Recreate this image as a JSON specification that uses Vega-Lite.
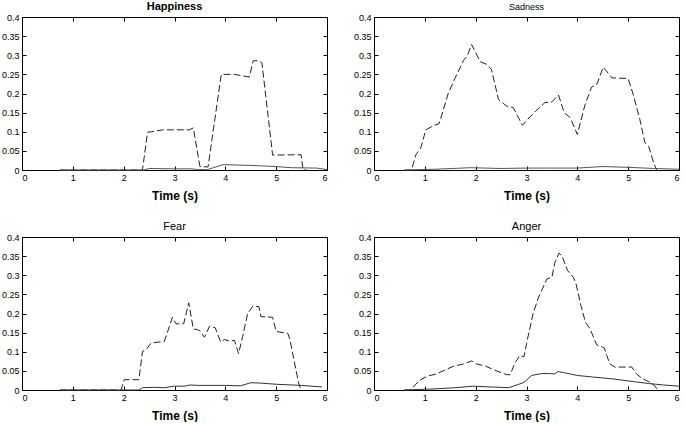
{
  "$schema": "https://vega.github.io/schema/vega-lite/v6.json",
  "padding": {"left": 0, "top": 0, "right": 4, "bottom": 0},
  "background": "white",
  "datasets": {
    "curves": [
      {"p": "Happiness", "s": "d", "t": 0.75, "v": 0},
      {"p": "Happiness", "s": "d", "t": 2.37, "v": 0},
      {"p": "Happiness", "s": "d", "t": 2.47, "v": 0.099},
      {"p": "Happiness", "s": "d", "t": 2.55, "v": 0.1},
      {"p": "Happiness", "s": "d", "t": 2.77, "v": 0.105},
      {"p": "Happiness", "s": "d", "t": 3.29, "v": 0.105},
      {"p": "Happiness", "s": "d", "t": 3.37, "v": 0.11},
      {"p": "Happiness", "s": "d", "t": 3.5, "v": 0.009},
      {"p": "Happiness", "s": "d", "t": 3.66, "v": 0.008},
      {"p": "Happiness", "s": "d", "t": 3.92, "v": 0.25},
      {"p": "Happiness", "s": "d", "t": 4.18, "v": 0.25},
      {"p": "Happiness", "s": "d", "t": 4.47, "v": 0.243},
      {"p": "Happiness", "s": "d", "t": 4.55, "v": 0.286},
      {"p": "Happiness", "s": "d", "t": 4.67, "v": 0.285},
      {"p": "Happiness", "s": "d", "t": 4.72, "v": 0.28},
      {"p": "Happiness", "s": "d", "t": 4.93, "v": 0.039},
      {"p": "Happiness", "s": "d", "t": 5.49, "v": 0.04},
      {"p": "Happiness", "s": "d", "t": 5.53, "v": 0},
      {"p": "Happiness", "s": "d", "t": 5.6, "v": 0},
      {"p": "Happiness", "s": "s", "t": 0.75, "v": 0},
      {"p": "Happiness", "s": "s", "t": 2.4, "v": 0},
      {"p": "Happiness", "s": "s", "t": 2.5, "v": 0.004},
      {"p": "Happiness", "s": "s", "t": 3.0, "v": 0.003},
      {"p": "Happiness", "s": "s", "t": 3.35, "v": 0.003},
      {"p": "Happiness", "s": "s", "t": 3.45, "v": 0.001},
      {"p": "Happiness", "s": "s", "t": 3.65, "v": 0.001},
      {"p": "Happiness", "s": "s", "t": 3.95, "v": 0.014},
      {"p": "Happiness", "s": "s", "t": 4.5, "v": 0.012},
      {"p": "Happiness", "s": "s", "t": 5.0, "v": 0.009},
      {"p": "Happiness", "s": "s", "t": 5.3, "v": 0.006},
      {"p": "Happiness", "s": "s", "t": 5.8, "v": 0.005},
      {"p": "Happiness", "s": "s", "t": 6.0, "v": 0.001},

      {"p": "Sadness", "s": "d", "t": 0.6, "v": 0},
      {"p": "Sadness", "s": "d", "t": 0.74, "v": 0},
      {"p": "Sadness", "s": "d", "t": 0.82, "v": 0.039},
      {"p": "Sadness", "s": "d", "t": 0.92, "v": 0.058},
      {"p": "Sadness", "s": "d", "t": 1.02, "v": 0.105},
      {"p": "Sadness", "s": "d", "t": 1.17, "v": 0.116},
      {"p": "Sadness", "s": "d", "t": 1.28, "v": 0.121},
      {"p": "Sadness", "s": "d", "t": 1.46, "v": 0.2},
      {"p": "Sadness", "s": "d", "t": 1.59, "v": 0.239},
      {"p": "Sadness", "s": "d", "t": 1.76, "v": 0.286},
      {"p": "Sadness", "s": "d", "t": 1.84, "v": 0.3},
      {"p": "Sadness", "s": "d", "t": 1.92, "v": 0.328},
      {"p": "Sadness", "s": "d", "t": 2.09, "v": 0.283},
      {"p": "Sadness", "s": "d", "t": 2.22, "v": 0.276},
      {"p": "Sadness", "s": "d", "t": 2.31, "v": 0.263},
      {"p": "Sadness", "s": "d", "t": 2.45, "v": 0.184},
      {"p": "Sadness", "s": "d", "t": 2.61, "v": 0.167},
      {"p": "Sadness", "s": "d", "t": 2.74, "v": 0.163},
      {"p": "Sadness", "s": "d", "t": 2.92, "v": 0.117},
      {"p": "Sadness", "s": "d", "t": 3.02, "v": 0.132},
      {"p": "Sadness", "s": "d", "t": 3.18, "v": 0.154},
      {"p": "Sadness", "s": "d", "t": 3.36, "v": 0.176},
      {"p": "Sadness", "s": "d", "t": 3.5, "v": 0.178},
      {"p": "Sadness", "s": "d", "t": 3.63, "v": 0.196},
      {"p": "Sadness", "s": "d", "t": 3.74, "v": 0.15},
      {"p": "Sadness", "s": "d", "t": 3.86, "v": 0.137},
      {"p": "Sadness", "s": "d", "t": 4.0, "v": 0.093},
      {"p": "Sadness", "s": "d", "t": 4.15, "v": 0.17},
      {"p": "Sadness", "s": "d", "t": 4.28, "v": 0.217},
      {"p": "Sadness", "s": "d", "t": 4.38, "v": 0.223},
      {"p": "Sadness", "s": "d", "t": 4.51, "v": 0.269},
      {"p": "Sadness", "s": "d", "t": 4.68, "v": 0.241},
      {"p": "Sadness", "s": "d", "t": 5.0, "v": 0.239},
      {"p": "Sadness", "s": "d", "t": 5.1, "v": 0.197},
      {"p": "Sadness", "s": "d", "t": 5.23, "v": 0.132},
      {"p": "Sadness", "s": "d", "t": 5.33, "v": 0.071},
      {"p": "Sadness", "s": "d", "t": 5.41, "v": 0.06},
      {"p": "Sadness", "s": "d", "t": 5.5, "v": 0.019},
      {"p": "Sadness", "s": "d", "t": 5.56, "v": 0},
      {"p": "Sadness", "s": "s", "t": 0.6, "v": 0},
      {"p": "Sadness", "s": "s", "t": 1.2, "v": 0.002},
      {"p": "Sadness", "s": "s", "t": 1.9, "v": 0.006},
      {"p": "Sadness", "s": "s", "t": 2.5, "v": 0.004},
      {"p": "Sadness", "s": "s", "t": 3.0, "v": 0.005},
      {"p": "Sadness", "s": "s", "t": 3.5, "v": 0.005},
      {"p": "Sadness", "s": "s", "t": 4.0, "v": 0.005},
      {"p": "Sadness", "s": "s", "t": 4.5, "v": 0.009},
      {"p": "Sadness", "s": "s", "t": 5.0, "v": 0.007},
      {"p": "Sadness", "s": "s", "t": 5.5, "v": 0.004},
      {"p": "Sadness", "s": "s", "t": 6.0, "v": 0.002},

      {"p": "Fear", "s": "d", "t": 0.75, "v": 0},
      {"p": "Fear", "s": "d", "t": 1.95, "v": 0},
      {"p": "Fear", "s": "d", "t": 2.01, "v": 0.027},
      {"p": "Fear", "s": "d", "t": 2.3, "v": 0.027},
      {"p": "Fear", "s": "d", "t": 2.37, "v": 0.101},
      {"p": "Fear", "s": "d", "t": 2.44, "v": 0.105},
      {"p": "Fear", "s": "d", "t": 2.54, "v": 0.123},
      {"p": "Fear", "s": "d", "t": 2.8, "v": 0.127},
      {"p": "Fear", "s": "d", "t": 2.96, "v": 0.19},
      {"p": "Fear", "s": "d", "t": 3.03, "v": 0.173},
      {"p": "Fear", "s": "d", "t": 3.18, "v": 0.173},
      {"p": "Fear", "s": "d", "t": 3.28, "v": 0.228},
      {"p": "Fear", "s": "d", "t": 3.37, "v": 0.16},
      {"p": "Fear", "s": "d", "t": 3.49, "v": 0.156},
      {"p": "Fear", "s": "d", "t": 3.59, "v": 0.138},
      {"p": "Fear", "s": "d", "t": 3.69, "v": 0.167},
      {"p": "Fear", "s": "d", "t": 3.8, "v": 0.163},
      {"p": "Fear", "s": "d", "t": 3.91, "v": 0.125},
      {"p": "Fear", "s": "d", "t": 3.98, "v": 0.132},
      {"p": "Fear", "s": "d", "t": 4.08, "v": 0.128},
      {"p": "Fear", "s": "d", "t": 4.18, "v": 0.13},
      {"p": "Fear", "s": "d", "t": 4.26, "v": 0.095},
      {"p": "Fear", "s": "d", "t": 4.34, "v": 0.14},
      {"p": "Fear", "s": "d", "t": 4.44, "v": 0.2},
      {"p": "Fear", "s": "d", "t": 4.54, "v": 0.219},
      {"p": "Fear", "s": "d", "t": 4.66, "v": 0.218},
      {"p": "Fear", "s": "d", "t": 4.7, "v": 0.192},
      {"p": "Fear", "s": "d", "t": 4.93, "v": 0.19},
      {"p": "Fear", "s": "d", "t": 5.0, "v": 0.153},
      {"p": "Fear", "s": "d", "t": 5.23, "v": 0.148},
      {"p": "Fear", "s": "d", "t": 5.27, "v": 0.132},
      {"p": "Fear", "s": "d", "t": 5.44, "v": 0.019},
      {"p": "Fear", "s": "d", "t": 5.49, "v": 0},
      {"p": "Fear", "s": "s", "t": 0.75, "v": 0},
      {"p": "Fear", "s": "s", "t": 2.3, "v": 0},
      {"p": "Fear", "s": "s", "t": 2.37, "v": 0.006},
      {"p": "Fear", "s": "s", "t": 2.6, "v": 0.007},
      {"p": "Fear", "s": "s", "t": 2.8, "v": 0.006},
      {"p": "Fear", "s": "s", "t": 3.0, "v": 0.01},
      {"p": "Fear", "s": "s", "t": 3.2, "v": 0.01},
      {"p": "Fear", "s": "s", "t": 3.3, "v": 0.013},
      {"p": "Fear", "s": "s", "t": 3.5, "v": 0.012},
      {"p": "Fear", "s": "s", "t": 4.0, "v": 0.012},
      {"p": "Fear", "s": "s", "t": 4.3, "v": 0.011},
      {"p": "Fear", "s": "s", "t": 4.5, "v": 0.019},
      {"p": "Fear", "s": "s", "t": 4.7, "v": 0.018},
      {"p": "Fear", "s": "s", "t": 5.0, "v": 0.015},
      {"p": "Fear", "s": "s", "t": 5.5, "v": 0.012},
      {"p": "Fear", "s": "s", "t": 5.9, "v": 0.008},

      {"p": "Anger", "s": "d", "t": 0.6, "v": 0},
      {"p": "Anger", "s": "d", "t": 0.73, "v": 0},
      {"p": "Anger", "s": "d", "t": 0.82, "v": 0.015},
      {"p": "Anger", "s": "d", "t": 0.9, "v": 0.025},
      {"p": "Anger", "s": "d", "t": 1.04, "v": 0.036},
      {"p": "Anger", "s": "d", "t": 1.2, "v": 0.041},
      {"p": "Anger", "s": "d", "t": 1.36, "v": 0.05},
      {"p": "Anger", "s": "d", "t": 1.56, "v": 0.062},
      {"p": "Anger", "s": "d", "t": 1.76, "v": 0.068},
      {"p": "Anger", "s": "d", "t": 1.92, "v": 0.076},
      {"p": "Anger", "s": "d", "t": 2.02, "v": 0.068},
      {"p": "Anger", "s": "d", "t": 2.18, "v": 0.063},
      {"p": "Anger", "s": "d", "t": 2.41, "v": 0.05},
      {"p": "Anger", "s": "d", "t": 2.61, "v": 0.04},
      {"p": "Anger", "s": "d", "t": 2.68, "v": 0.04},
      {"p": "Anger", "s": "d", "t": 2.77, "v": 0.07},
      {"p": "Anger", "s": "d", "t": 2.87, "v": 0.09},
      {"p": "Anger", "s": "d", "t": 2.95, "v": 0.087},
      {"p": "Anger", "s": "d", "t": 3.0, "v": 0.121},
      {"p": "Anger", "s": "d", "t": 3.13, "v": 0.2},
      {"p": "Anger", "s": "d", "t": 3.23, "v": 0.24},
      {"p": "Anger", "s": "d", "t": 3.4, "v": 0.29},
      {"p": "Anger", "s": "d", "t": 3.5, "v": 0.295},
      {"p": "Anger", "s": "d", "t": 3.56, "v": 0.334},
      {"p": "Anger", "s": "d", "t": 3.64, "v": 0.358},
      {"p": "Anger", "s": "d", "t": 3.7, "v": 0.35},
      {"p": "Anger", "s": "d", "t": 3.81, "v": 0.312},
      {"p": "Anger", "s": "d", "t": 3.92, "v": 0.295},
      {"p": "Anger", "s": "d", "t": 3.97, "v": 0.28},
      {"p": "Anger", "s": "d", "t": 4.07, "v": 0.221},
      {"p": "Anger", "s": "d", "t": 4.16, "v": 0.177},
      {"p": "Anger", "s": "d", "t": 4.25, "v": 0.16},
      {"p": "Anger", "s": "d", "t": 4.38, "v": 0.118},
      {"p": "Anger", "s": "d", "t": 4.48, "v": 0.113},
      {"p": "Anger", "s": "d", "t": 4.53, "v": 0.11},
      {"p": "Anger", "s": "d", "t": 4.58, "v": 0.09},
      {"p": "Anger", "s": "d", "t": 4.64, "v": 0.068},
      {"p": "Anger", "s": "d", "t": 4.74, "v": 0.06},
      {"p": "Anger", "s": "d", "t": 5.07, "v": 0.06},
      {"p": "Anger", "s": "d", "t": 5.17, "v": 0.041},
      {"p": "Anger", "s": "d", "t": 5.28, "v": 0.03},
      {"p": "Anger", "s": "d", "t": 5.43, "v": 0.02},
      {"p": "Anger", "s": "d", "t": 5.53, "v": 0.01},
      {"p": "Anger", "s": "d", "t": 5.58, "v": 0},
      {"p": "Anger", "s": "s", "t": 0.6, "v": 0},
      {"p": "Anger", "s": "s", "t": 1.2, "v": 0.003},
      {"p": "Anger", "s": "s", "t": 1.6, "v": 0.006},
      {"p": "Anger", "s": "s", "t": 1.95, "v": 0.01},
      {"p": "Anger", "s": "s", "t": 2.3, "v": 0.008},
      {"p": "Anger", "s": "s", "t": 2.65, "v": 0.006},
      {"p": "Anger", "s": "s", "t": 2.85, "v": 0.015},
      {"p": "Anger", "s": "s", "t": 2.95, "v": 0.02},
      {"p": "Anger", "s": "s", "t": 3.1, "v": 0.038},
      {"p": "Anger", "s": "s", "t": 3.3, "v": 0.043},
      {"p": "Anger", "s": "s", "t": 3.45, "v": 0.043},
      {"p": "Anger", "s": "s", "t": 3.55, "v": 0.042},
      {"p": "Anger", "s": "s", "t": 3.62, "v": 0.048},
      {"p": "Anger", "s": "s", "t": 3.75, "v": 0.045},
      {"p": "Anger", "s": "s", "t": 4.0, "v": 0.038},
      {"p": "Anger", "s": "s", "t": 4.3, "v": 0.034},
      {"p": "Anger", "s": "s", "t": 4.7, "v": 0.029},
      {"p": "Anger", "s": "s", "t": 5.1, "v": 0.022},
      {"p": "Anger", "s": "s", "t": 5.4, "v": 0.017},
      {"p": "Anger", "s": "s", "t": 5.7, "v": 0.013},
      {"p": "Anger", "s": "s", "t": 6.0, "v": 0.01}
    ]
  },
  "columns": 2,
  "spacing": {"row": 18, "column": 22},
  "concat": [
    {
      "title": {"text": "Happiness", "fontWeight": "bold", "fontSize": 11},
      "width": 305, "height": 153,
      "data": {"name": "curves"},
      "transform": [{"filter": "datum.p === 'Happiness'"}],
      "encoding": {
        "x": {"field": "t", "type": "quantitative", "scale": {"domain": [0, 6], "nice": false}, "axis": {"title": "Time (s)", "values": [0, 1, 2, 3, 4, 5, 6], "format": "~g"}},
        "y": {"field": "v", "type": "quantitative", "scale": {"domain": [0, 0.4], "nice": false}, "axis": {"title": null, "values": [0, 0.05, 0.1, 0.15, 0.2, 0.25, 0.3, 0.35, 0.4], "format": "~g"}}
      },
      "layer": [
        {"transform": [{"filter": "datum.s === 'd'"}], "mark": {"type": "line", "color": "#222", "strokeWidth": 1, "strokeDash": [7, 3]}},
        {"transform": [{"filter": "datum.s === 's'"}], "mark": {"type": "line", "color": "#555", "strokeWidth": 1},
         "encoding": {
           "x": {"field": "t", "type": "quantitative", "axis": {"orient": "top", "labels": false, "title": null, "labelPadding": 0, "values": [0, 1, 2, 3, 4, 5, 6]}},
           "y": {"field": "v", "type": "quantitative", "axis": {"orient": "right", "labels": false, "title": null, "labelPadding": 0, "values": [0, 0.05, 0.1, 0.15, 0.2, 0.25, 0.3, 0.35, 0.4]}}
         }}
      ],
      "resolve": {"axis": {"x": "independent", "y": "independent"}}
    },
    {
      "title": {"text": "Sadness", "fontWeight": "normal", "fontSize": 9},
      "width": 305, "height": 153,
      "data": {"name": "curves"},
      "transform": [{"filter": "datum.p === 'Sadness'"}],
      "encoding": {
        "x": {"field": "t", "type": "quantitative", "scale": {"domain": [0, 6], "nice": false}, "axis": {"title": "Time (s)", "values": [0, 1, 2, 3, 4, 5, 6], "format": "~g"}},
        "y": {"field": "v", "type": "quantitative", "scale": {"domain": [0, 0.4], "nice": false}, "axis": {"title": null, "values": [0, 0.05, 0.1, 0.15, 0.2, 0.25, 0.3, 0.35, 0.4], "format": "~g"}}
      },
      "layer": [
        {"transform": [{"filter": "datum.s === 'd'"}], "mark": {"type": "line", "color": "#222", "strokeWidth": 1, "strokeDash": [7, 3]}},
        {"transform": [{"filter": "datum.s === 's'"}], "mark": {"type": "line", "color": "#555", "strokeWidth": 1},
         "encoding": {
           "x": {"field": "t", "type": "quantitative", "axis": {"orient": "top", "labels": false, "title": null, "labelPadding": 0, "values": [0, 1, 2, 3, 4, 5, 6]}},
           "y": {"field": "v", "type": "quantitative", "axis": {"orient": "right", "labels": false, "title": null, "labelPadding": 0, "values": [0, 0.05, 0.1, 0.15, 0.2, 0.25, 0.3, 0.35, 0.4]}}
         }}
      ],
      "resolve": {"axis": {"x": "independent", "y": "independent"}}
    },
    {
      "title": {"text": "Fear", "fontWeight": "normal", "fontSize": 11},
      "width": 305, "height": 153,
      "data": {"name": "curves"},
      "transform": [{"filter": "datum.p === 'Fear'"}],
      "encoding": {
        "x": {"field": "t", "type": "quantitative", "scale": {"domain": [0, 6], "nice": false}, "axis": {"title": "Time (s)", "values": [0, 1, 2, 3, 4, 5, 6], "format": "~g"}},
        "y": {"field": "v", "type": "quantitative", "scale": {"domain": [0, 0.4], "nice": false}, "axis": {"title": null, "values": [0, 0.05, 0.1, 0.15, 0.2, 0.25, 0.3, 0.35, 0.4], "format": "~g"}}
      },
      "layer": [
        {"transform": [{"filter": "datum.s === 'd'"}], "mark": {"type": "line", "color": "#222", "strokeWidth": 1, "strokeDash": [7, 3]}},
        {"transform": [{"filter": "datum.s === 's'"}], "mark": {"type": "line", "color": "#333", "strokeWidth": 1},
         "encoding": {
           "x": {"field": "t", "type": "quantitative", "axis": {"orient": "top", "labels": false, "title": null, "labelPadding": 0, "values": [0, 1, 2, 3, 4, 5, 6]}},
           "y": {"field": "v", "type": "quantitative", "axis": {"orient": "right", "labels": false, "title": null, "labelPadding": 0, "values": [0, 0.05, 0.1, 0.15, 0.2, 0.25, 0.3, 0.35, 0.4]}}
         }}
      ],
      "resolve": {"axis": {"x": "independent", "y": "independent"}}
    },
    {
      "title": {"text": "Anger", "fontWeight": "normal", "fontSize": 11},
      "width": 305, "height": 153,
      "data": {"name": "curves"},
      "transform": [{"filter": "datum.p === 'Anger'"}],
      "encoding": {
        "x": {"field": "t", "type": "quantitative", "scale": {"domain": [0, 6], "nice": false}, "axis": {"title": "Time (s)", "values": [0, 1, 2, 3, 4, 5, 6], "format": "~g"}},
        "y": {"field": "v", "type": "quantitative", "scale": {"domain": [0, 0.4], "nice": false}, "axis": {"title": null, "values": [0, 0.05, 0.1, 0.15, 0.2, 0.25, 0.3, 0.35, 0.4], "format": "~g"}}
      },
      "layer": [
        {"transform": [{"filter": "datum.s === 'd'"}], "mark": {"type": "line", "color": "#222", "strokeWidth": 1, "strokeDash": [7, 3]}},
        {"transform": [{"filter": "datum.s === 's'"}], "mark": {"type": "line", "color": "#333", "strokeWidth": 1},
         "encoding": {
           "x": {"field": "t", "type": "quantitative", "axis": {"orient": "top", "labels": false, "title": null, "labelPadding": 0, "values": [0, 1, 2, 3, 4, 5, 6]}},
           "y": {"field": "v", "type": "quantitative", "axis": {"orient": "right", "labels": false, "title": null, "labelPadding": 0, "values": [0, 0.05, 0.1, 0.15, 0.2, 0.25, 0.3, 0.35, 0.4]}}
         }}
      ],
      "resolve": {"axis": {"x": "independent", "y": "independent"}}
    }
  ],
  "config": {
    "font": "Liberation Sans",
    "view": {"stroke": "#000", "strokeWidth": 1},
    "title": {"font": "Liberation Sans", "color": "#000", "offset": 1, "anchor": "middle"},
    "axis": {
      "grid": false, "domain": false, "tickSize": -4, "tickColor": "#000", "labelPadding": 7,
      "labelFontSize": 9, "labelColor": "#000", "labelFont": "Liberation Sans",
      "titleFontWeight": "bold", "titleFontSize": 12, "titleColor": "#000", "titlePadding": 8, "titleFont": "Liberation Sans"
    }
  }
}
